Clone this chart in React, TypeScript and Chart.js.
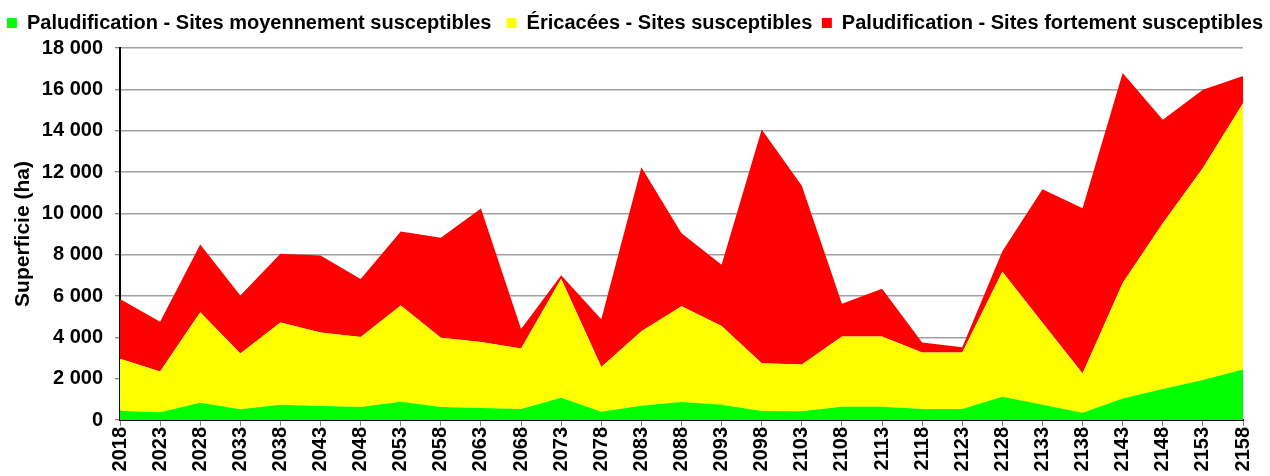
import React, { useEffect, useRef } from 'react';
import { Chart, registerables } from 'chart.js';

Chart.register(...registerables);

const YEARS = [
  '2018', '2023', '2028', '2033', '2038', '2043', '2048', '2053', '2058', '2063',
  '2068', '2073', '2078', '2083', '2088', '2093', '2098', '2103', '2108', '2113',
  '2118', '2123', '2128', '2133', '2138', '2143', '2148', '2153', '2158',
];

// Paludification - Sites moyennement susceptibles (ha)
const MOYENNEMENT = [
  450, 370, 835, 515, 740, 675, 630, 885, 630, 580,
  530, 1075, 400, 690, 870, 740, 435, 420, 645, 645,
  530, 530, 1125, 740, 355, 1045, 1495, 1930, 2445,
];

// Éricacées - Sites susceptibles (ha)
const ERICACEES = [
  2510, 1980, 4375, 2705, 3975, 3555, 3390, 4650, 3345, 3200,
  2930, 5765, 2160, 3605, 4630, 3810, 2315, 2270, 3395, 3395,
  2735, 2735, 6050, 3960, 1895, 5580, 8025, 10265, 12885,
];

// Paludification - Sites fortement susceptibles (ha)
const FORTEMENT = [
  2890, 2410, 3280, 2800, 3330, 3735, 2800, 3585, 4840, 6450,
  945, 160, 2315, 7930, 3540, 2965, 11310, 8650, 1590, 2315,
  485, 255, 995, 6465, 7995, 10170, 5005, 3780, 1320,
];

const SERIES_NAMES = [
  'Paludification - Sites moyennement susceptibles',
  'Éricacées - Sites susceptibles',
  'Paludification - Sites fortement susceptibles',
];
const SERIES_COLORS = ['#00FF00', '#FFFF00', '#FF0000'];
const LEGEND_SUFFIX = ['  ', ' ', ''];

const Y_MIN = 0;
const Y_MAX = 18000;
const Y_STEP = 2000;
const Y_TITLE = 'Superficie (ha)';

const FONT = '"Liberation Sans", Arial, sans-serif';

const fmt = (v: number) => String(v).replace(/\B(?=(\d{3})+(?!\d))/g, ' ');

const legendFitPlugin = {
  id: 'legendFit',
  beforeUpdate(chart: any) {
    const legend = chart.legend;
    if (!legend || legend._patchedFit) return;
    const orig = legend.fit;
    legend.fit = function () {
      const mw = this.maxWidth;
      this.maxWidth = 5000;
      orig.call(this);
      this.maxWidth = mw;
      this.width = mw;
      this.height = 39;
    };
    legend._patchedFit = true;
  },
};

export default function App() {
  const ref = useRef<HTMLCanvasElement>(null);

  useEffect(() => {
    if (!ref.current) return;
    Chart.defaults.font.family = FONT;
    Chart.defaults.color = '#000';
    const chart = new Chart(ref.current, {
      type: 'line',
      data: {
        labels: YEARS,
        datasets: [
          {
            label: SERIES_NAMES[0],
            data: MOYENNEMENT,
            backgroundColor: SERIES_COLORS[0],
            borderColor: SERIES_COLORS[0],
            borderWidth: 0,
            pointRadius: 0,
            fill: 'origin',
          },
          {
            label: SERIES_NAMES[1],
            data: ERICACEES,
            backgroundColor: SERIES_COLORS[1],
            borderColor: SERIES_COLORS[1],
            borderWidth: 0,
            pointRadius: 0,
            fill: '-1',
          },
          {
            label: SERIES_NAMES[2],
            data: FORTEMENT,
            backgroundColor: SERIES_COLORS[2],
            borderColor: SERIES_COLORS[2],
            borderWidth: 0,
            pointRadius: 0,
            fill: '-1',
          },
        ],
      },
      options: {
        animation: false,
        responsive: true,
        maintainAspectRatio: false,
        events: [],
        layout: { padding: { top: 9, left: 0, right: 0, bottom: 0 } },
        elements: { line: { tension: 0 } },
        plugins: {
          tooltip: { enabled: false },
          legend: {
            display: true,
            position: 'top',
            labels: {
              boxWidth: 10,
              boxHeight: 10,
              padding: 4,
              color: '#000',
              font: { family: FONT, size: 20, weight: 'bold' },
              generateLabels(c: any) {
                const items = (Chart as any).defaults.plugins.legend.labels.generateLabels(c);
                return items.map((it: any, i: number) => ({
                  ...it,
                  text: it.text + LEGEND_SUFFIX[i],
                  lineWidth: 0,
                }));
              },
            },
          },
        },
        scales: {
          x: {
            type: 'category',
            offset: false,
            grid: {
              display: true,
              drawOnChartArea: false,
              drawTicks: true,
              tickLength: 6,
              tickColor: '#808080',
              tickWidth: 1,
            },
            border: { display: true, color: '#000', width: 2 },
            ticks: {
              autoSkip: false,
              minRotation: 90,
              maxRotation: 90,
              padding: 1,
              color: '#000',
              font: { family: FONT, size: 20, weight: 'bold' },
            },
            afterFit(scale: any) {
              scale.height = 56;
              scale.paddingRight = 27;
            },
          },
          y: {
            type: 'linear',
            stacked: true,
            min: Y_MIN,
            max: Y_MAX,
            grid: {
              display: true,
              color: '#a0a0a0',
              lineWidth: 1.5,
              drawTicks: true,
              tickLength: 5,
              tickColor: '#606060',
              tickWidth: 1,
            },
            border: { display: true, color: '#000', width: 2 },
            ticks: {
              stepSize: Y_STEP,
              padding: 12,
              color: '#000',
              font: { family: FONT, size: 20, weight: 'bold' },
              callback: (v: any) => fmt(Number(v)),
            },
            title: {
              display: true,
              text: Y_TITLE,
              color: '#000',
              font: { family: FONT, size: 21, weight: 'bold' },
              padding: { top: 11, bottom: 0 },
            },
            afterFit(scale: any) {
              scale.width = 120;
            },
          },
        },
      },
      plugins: [legendFitPlugin],
    } as any);
    return () => chart.destroy();
  }, []);

  return (
    <div style={{ position: 'absolute', left: 0, top: 0, width: 1270, height: 476 }}>
      <canvas ref={ref} />
    </div>
  );
}
